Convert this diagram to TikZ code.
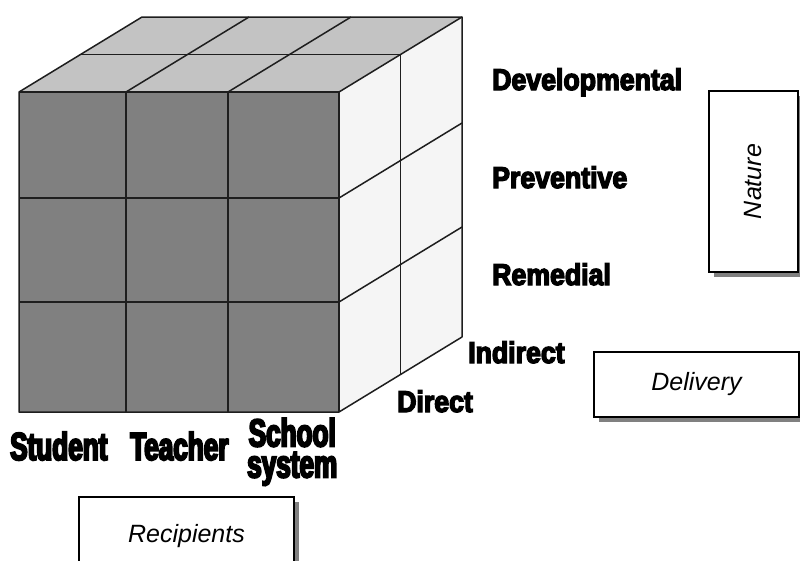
\documentclass[tikz,border=0pt]{standalone}
\usepackage{fontspec}
\setmainfont{Liberation Sans}
\newfontfamily\toplabfont{Liberation Sans Bold}[FakeStretch=0.89,FakeBold=4.5]
\newfontfamily\botlabfont{Liberation Sans Bold}[FakeStretch=0.67,FakeBold=5]
\usetikzlibrary{shadows}
\definecolor{frontgray}{RGB}{128,128,128}
\definecolor{topgray}{RGB}{195,195,195}
\definecolor{sidegray}{RGB}{245,245,245}
\definecolor{edgecol}{RGB}{30,30,30}
\definecolor{shadowgray}{RGB}{128,128,128}
\tikzset{
  edge/.style={draw=edgecol, line width=1.5pt, line join=round},
  toplab/.style={anchor=base west, inner sep=0pt, font=\toplabfont\fontsize{30}{30}\selectfont},
  botlab/.style={anchor=base west, inner sep=0pt, font=\botlabfont\fontsize{39}{31}\selectfont},
  dimbox/.style={draw=black, line width=1.4pt, fill=white, inner sep=0pt,
    font=\itshape\fontsize{25}{25}\selectfont,
    drop shadow={shadow xshift=4.5pt, shadow yshift=-4.5pt, fill=shadowgray, opacity=1}}
}
\begin{document}
\begin{tikzpicture}[x=1pt,y=-1pt]
\useasboundingbox (0,0) rectangle (800,560);
% cube corners
\coordinate (F1) at (19,92);
\coordinate (F2) at (339,92);
\coordinate (F3) at (339,412);
\coordinate (F4) at (19,412);
\coordinate (B1) at (142,17);
\coordinate (B2) at (462,17);
\coordinate (B3) at (462,337);
% faces
\fill[frontgray] (F1) rectangle (F3);
\fill[topgray] (F1) -- (B1) -- (B2) -- (F2) -- cycle;
\fill[sidegray] (F2) -- (B2) -- (B3) -- (F3) -- cycle;
% front grid
\draw[edge] (126,92) -- (126,412);
\draw[edge] (228,92) -- (228,412);
\draw[edge] (19,198) -- (339,198);
\draw[edge] (19,302) -- (339,302);
% top grid
\draw[edge] (126,92) -- (249,17);
\draw[edge] (228,92) -- (351,17);
\draw[edge] (80.5,54.5) -- (400.5,54.5);
% right grid
\draw[edge] (339,198) -- (462,123);
\draw[edge] (339,302) -- (462,227);
\draw[edge] (400.5,54.5) -- (400.5,374.5);
% outline
\draw[edge] (F4) -- (F1) -- (B1) -- (B2) -- (B3) -- (F3) -- cycle;
\draw[edge] (F1) -- (F2) -- (F3);
\draw[edge] (F2) -- (B2);
% labels
\node[toplab] (dev) at (492,90) {Developmental};
\node[toplab] (prev) at (492,188) {Preventive};
\node[toplab] (rem) at (492,285) {Remedial};
\node[toplab] (ind) at (468,363) {Indirect};
\node[toplab] (dir) at (397,412) {Direct};
\node[botlab] (stu) at (10,460) {Student};
\node[botlab] (tea) at (130,460) {Teacher};
\node[botlab, anchor=north west, align=center] (sch) at (247,418) {School\\system};
% dimension boxes
\node[dimbox, minimum width=89pt, minimum height=181pt] (nature) at (753.5,181.5) {\rotatebox{90}{Nature}};
\node[dimbox, minimum width=205pt, minimum height=65pt] (delivery) at (696.5,384.5) {Delivery};
\node[dimbox, minimum width=215pt, minimum height=78pt] (recip) at (186.5,536) {Recipients};
\end{tikzpicture}
\end{document}
